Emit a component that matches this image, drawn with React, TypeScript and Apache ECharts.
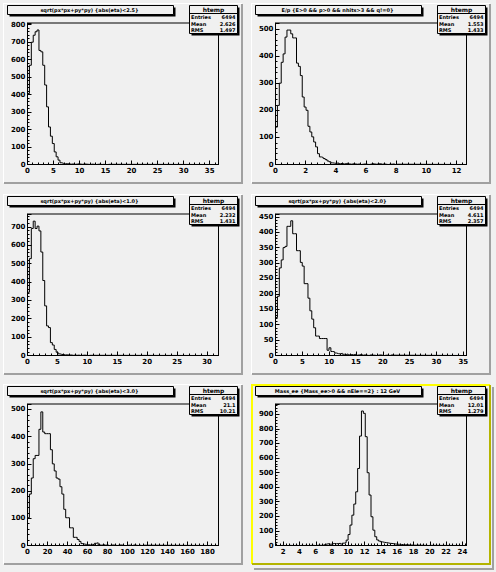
import React, { useEffect, useRef } from "react";
import * as echarts from "echarts";

// ---- histogram bin contents (100 bins per pad, trailing empty bins omitted) ----
const pad1Counts = [406, 568, 700, 740, 760, 770, 653, 645, 568, 455, 330, 215, 162, 120, 72, 44, 25, 10, 6, 4, 5, 3, 2, 3, 1, 2, 4, 2, 1, 3, 2, 1, 0, 2, 1, 0, 1, 2, 0, 1, 0, 0, 1];
const pad2Counts = [138, 218, 300, 377, 408, 470, 496, 496, 482, 467, 467, 374, 362, 328, 249, 212, 200, 141, 120, 102, 83, 65, 40, 28, 26, 22, 18, 13, 10, 6, 5, 4, 6, 3, 4, 2, 3, 5, 2, 1, 3, 2, 1, 2, 0, 1, 2, 1, 0, 1, 3, 2, 1, 2, 3, 1, 2, 1, 0, 1, 1, 2, 0, 1];
const pad3Counts = [344, 527, 691, 731, 691, 704, 678, 563, 408, 270, 161, 152, 70, 57, 33, 18, 9, 6, 5, 3, 4, 2, 3, 1, 2, 1, 2, 0, 1, 2, 1, 0, 1];
const pad4Counts = [123, 192, 284, 310, 350, 354, 419, 419, 437, 395, 395, 340, 340, 302, 290, 233, 233, 186, 145, 118, 90, 63, 63, 55, 55, 55, 55, 17, 25, 13, 12, 8, 6, 5, 7, 4, 3, 5, 2, 3, 2, 4, 1, 2, 3, 1, 2, 1, 0, 2, 1, 1, 0, 1, 2, 1, 0, 1, 1, 0, 2, 1];
const pad5Counts = [102, 189, 248, 319, 331, 331, 427, 491, 417, 411, 411, 411, 352, 300, 274, 248, 244, 216, 189, 133, 102, 102, 65, 65, 30, 30, 22, 15, 7, 5, 4, 3, 2, 4, 3, 8, 10, 2, 1, 3, 1, 2, 0, 1, 2, 1, 0, 1, 2, 1, 0, 0, 1, 1, 0, 2, 1, 0, 1, 0, 1];
const pad6Counts = [0, 0, 0, 1, 0, 0, 0, 1, 0, 0, 1, 0, 0, 1, 0, 1, 0, 0, 1, 1, 0, 1, 2, 1, 2,
  6, 10, 12, 8, 11, 14, 12, 13, 15, 10, 16,
  20, 37, 75, 140, 208, 284, 368, 528, 750, 922, 906, 746, 499, 346, 197, 105, 60, 38, 30, 25, 22, 20, 18, 15, 14, 12, 10, 9, 8, 7, 6, 5, 5, 4, 3, 3, 2, 2, 3, 1, 2, 1, 1, 0, 1];

const NBINS = 100;
const xMins = [0, 0, 0, 0, 0, 1.06];
const xMaxs = [36.7, 12.66, 31.9, 35.6, 191, 24.5];
const xSteps = [5, 2, 5, 5, 20, 2];
const yMaxs = [810, 522, 770, 459, 520, 970];
const ySteps = [100, 100, 100, 50, 100, 100];

const titles = [
  "sqrt(px*px+py*py) {abs(eta)<2.5}",
  "E/p {E>0 && p>0 && nhits>3 && q!=0}",
  "sqrt(px*px+py*py) {abs(eta)<1.0}",
  "sqrt(px*px+py*py) {abs(eta)<2.0}",
  "sqrt(px*px+py*py) {abs(eta)<3.0}",
  "Mass_ee {Mass_ee>0 && nEle==2} : 12 GeV",
];
const statName = "htemp";
const statEntries = ["6494", "6494", "6494", "6494", "6494", "6494"];
const statMeans = ["2.626", "1.553", "2.232", "4.611", "21.1", "12.01"];
const statRms = ["1.497", "1.433", "1.431", "2.357", "10.21", "1.279"];

const allCounts = [pad1Counts, pad2Counts, pad3Counts, pad4Counts, pad5Counts, pad6Counts];

const W = 496;
const H = 572;
const BG = "#f0f0f0";

function histPoints(counts: number[], xmin: number, xmax: number) {
  const w = (xmax - xmin) / NBINS;
  const pts: number[][] = [[xmin, 0]];
  counts.forEach((c, i) => pts.push([xmin + i * w, c]));
  const end = xmin + counts.length * w;
  pts.push([end, 0]);
  if (end < xmax) pts.push([xmax, 0]);
  return pts;
}

export default function App() {
  const ref = useRef<HTMLDivElement>(null);
  useEffect(() => {
    document.body.style.margin = "0";
    document.body.style.background = BG;
    const chart = echarts.init(ref.current!, null, { renderer: "svg", width: W, height: H });
    const grids: any[] = [];
    const xAxes: any[] = [];
    const yAxes: any[] = [];
    const series: any[] = [];
    const graphics: any[] = [];
    const labelFont = { fontFamily: "DejaVu Sans", fontSize: 7, fontWeight: "bold", color: "#000" };

    for (let i = 0; i < 6; i++) {
      const c = i % 2;
      const r = Math.floor(i / 2);
      const ox = c * 248;
      const oy = Math.round((r * H) / 3);
      const selected = i === 5;
      const hi = selected ? "#ffff00" : "#ffffff";
      const lo = selected ? "#b4b400" : "#a0a0a0";
      const bw = selected ? 2 : 1;
      // pad bevel
      graphics.push({ type: "rect", z: 1, shape: { x: ox + 3, y: oy + 3, width: 239, height: bw }, style: { fill: hi } });
      graphics.push({ type: "rect", z: 1, shape: { x: ox + 3, y: oy + 3, width: bw, height: 180 }, style: { fill: hi } });
      graphics.push({ type: "rect", z: 1, shape: { x: ox + 4, y: oy + 182, width: 239, height: 2 }, style: { fill: lo } });
      graphics.push({ type: "rect", z: 1, shape: { x: ox + 241, y: oy + 4, width: 2, height: 180 }, style: { fill: lo } });
      if (selected) {
        graphics.push({ type: "rect", z: 1, shape: { x: ox + 6, y: oy + 187, width: 240, height: 2 }, style: { fill: "#a0a0a0" } });
        graphics.push({ type: "rect", z: 1, shape: { x: ox + 244, y: oy + 6, width: 2, height: 183 }, style: { fill: "#a0a0a0" } });
      }

      // title box with shadow
      graphics.push({
        type: "group", x: ox + 7.5, y: oy + 5.5, z: 20,
        children: [
          { type: "rect", z: 20, shape: { x: 2, y: 2, width: 166, height: 9 }, style: { fill: "#000" } },
          { type: "rect", z: 21, shape: { x: 0, y: 0, width: 166, height: 9 }, style: { fill: BG, stroke: "#000", lineWidth: 1 } },
          { type: "text", z: 22, x: 82, y: 4, style: { text: titles[i], fill: "#000", font: "bold 5px 'DejaVu Sans'", align: "center", verticalAlign: "middle" } },
        ],
      });

      // stats box with shadow
      const sx = ox + 189.5;
      const sy = oy + 5.5;
      const rowFont = "bold 5px 'DejaVu Sans'";
      graphics.push({
        type: "group", x: sx, y: sy, z: 20,
        children: [
          { type: "rect", z: 20, shape: { x: 2, y: 2, width: 48, height: 28 }, style: { fill: "#000" } },
          { type: "rect", z: 21, shape: { x: 0, y: 0, width: 48, height: 28 }, style: { fill: BG, stroke: "#000", lineWidth: 1 } },
          { type: "line", z: 22, shape: { x1: 0, y1: 8, x2: 48, y2: 8 }, style: { stroke: "#000", lineWidth: 1 } },
          { type: "text", z: 22, x: 24, y: 4.2, style: { text: statName, fill: "#000", font: "bold 6px 'DejaVu Sans'", align: "center", verticalAlign: "middle" } },
          { type: "text", z: 22, x: 1.5, y: 11.5, style: { text: "Entries", fill: "#000", font: rowFont, align: "left", verticalAlign: "middle" } },
          { type: "text", z: 22, x: 46, y: 11.5, style: { text: statEntries[i], fill: "#000", font: rowFont, align: "right", verticalAlign: "middle" } },
          { type: "text", z: 22, x: 1.5, y: 18.2, style: { text: "Mean", fill: "#000", font: rowFont, align: "left", verticalAlign: "middle" } },
          { type: "text", z: 22, x: 46, y: 18.2, style: { text: statMeans[i], fill: "#000", font: rowFont, align: "right", verticalAlign: "middle" } },
          { type: "text", z: 22, x: 1.5, y: 24.6, style: { text: "RMS", fill: "#000", font: rowFont, align: "left", verticalAlign: "middle" } },
          { type: "text", z: 22, x: 46, y: 24.6, style: { text: statRms[i], fill: "#000", font: rowFont, align: "right", verticalAlign: "middle" } },
        ],
      });

      grids.push({
        left: ox + 27.5,
        top: oy + 23,
        width: 191,
        height: 141.5,
        show: true,
        borderColor: "#000",
        borderWidth: 1,
        backgroundColor: "transparent",
        containLabel: false,
      });

      const xs = xSteps[i];
      const ys = ySteps[i];
      const xFmt = (v: number) => (Math.abs(v / xs - Math.round(v / xs)) < 1e-6 ? String(Math.round(v)) : "");
      const yFmt = (v: number) => (Math.abs(v / ys - Math.round(v / ys)) < 1e-6 ? String(Math.round(v)) : "");
      const xAxis: any = {
        type: "value",
        gridIndex: i,
        min: xMins[i],
        max: xMaxs[i],
        axisLine: { show: true, onZero: false, lineStyle: { color: "#000", width: 1 } },
        axisTick: { show: true, inside: true, length: 4, lineStyle: { color: "#000", width: 1 } },
        minorTick: { show: true, splitNumber: 5, length: 2, lineStyle: { color: "#000", width: 1 } },
        splitLine: { show: false },
        minorSplitLine: { show: false },
        axisLabel: { ...labelFont, margin: 3, showMaxLabel: false, showMinLabel: i !== 5, formatter: xFmt },
      };
      if (xMins[i] % xs === 0) xAxis.interval = xs;
      else xAxis.splitNumber = Math.round((xMaxs[i] - xMins[i]) / xs);
      xAxes.push(xAxis);
      yAxes.push({
        type: "value",
        gridIndex: i,
        min: 0,
        max: yMaxs[i],
        interval: ys,
        axisLine: { show: true, onZero: false, lineStyle: { color: "#000", width: 1 } },
        axisTick: { show: true, inside: true, length: 4, lineStyle: { color: "#000", width: 1 } },
        minorTick: { show: true, splitNumber: 5, length: 2, lineStyle: { color: "#000", width: 1 } },
        splitLine: { show: false },
        minorSplitLine: { show: false },
        axisLabel: { ...labelFont, margin: 2, showMaxLabel: false, formatter: yFmt },
      });
      series.push({
        type: "line",
        xAxisIndex: i,
        yAxisIndex: i,
        data: histPoints(allCounts[i], xMins[i], xMaxs[i]),
        step: "end",
        symbol: "none",
        showSymbol: false,
        silent: true,
        clip: true,
        z: 3,
        lineStyle: { color: "#000", width: 1 },
      });
    }

    chart.setOption({
      animation: false,
      backgroundColor: BG,
      tooltip: { show: false },
      grid: grids,
      xAxis: xAxes,
      yAxis: yAxes,
      series,
      graphic: { elements: graphics },
    });
    return () => chart.dispose();
  }, []);
  return <div ref={ref} style={{ position: "absolute", left: 0, top: 0, width: W, height: H }} />;
}
